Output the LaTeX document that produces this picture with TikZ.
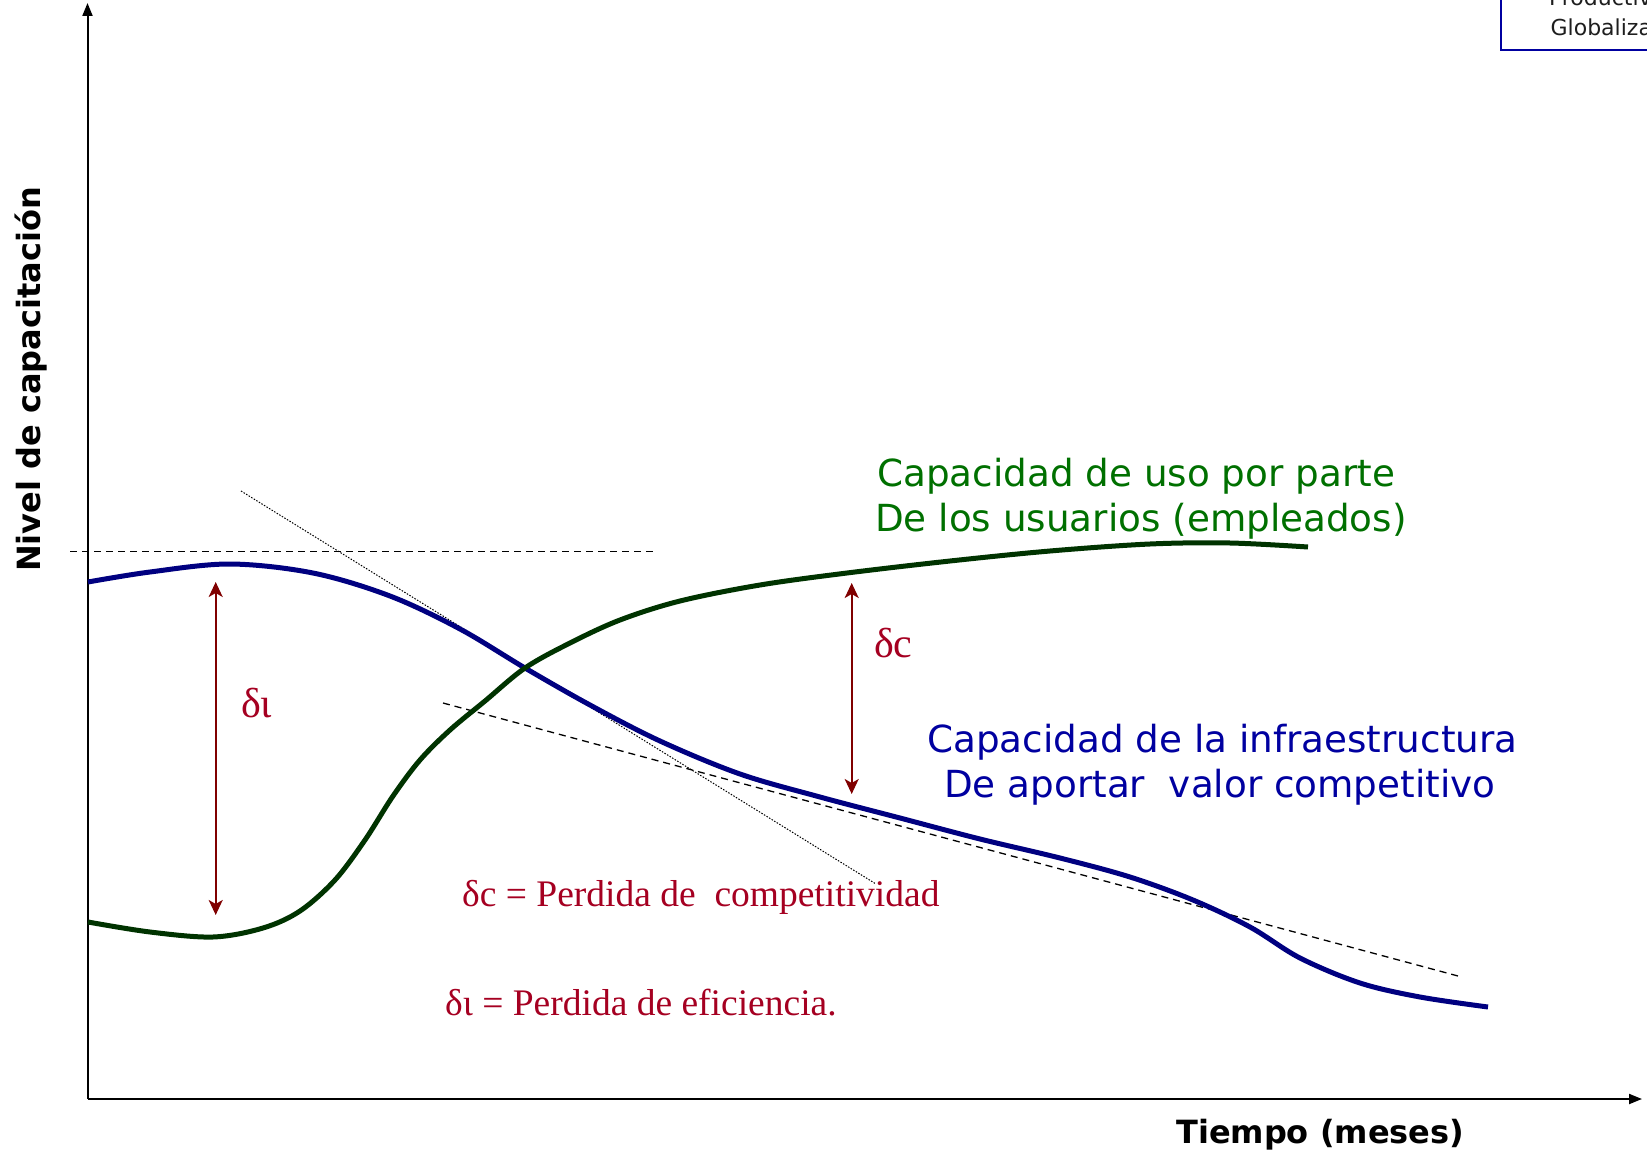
\documentclass[tikz,border=0pt]{standalone}
\usepackage{fontspec}
\setmainfont{Liberation Serif}
\newfontfamily\vsans{DejaVu Sans}
\usetikzlibrary{arrows.meta}
\definecolor{curveblue}{RGB}{0,0,128}
\definecolor{curvegreen}{RGB}{0,51,0}
\definecolor{arrowred}{RGB}{128,0,0}
\definecolor{textred}{RGB}{165,0,33}
\definecolor{textblue}{RGB}{0,0,160}
\definecolor{textgreen}{RGB}{0,112,0}
\definecolor{boxtext}{RGB}{30,30,30}
\begin{document}
\begin{tikzpicture}[x=1pt,y=-1pt,
  axisline/.style={line width=2pt,black,-{Triangle[length=13pt,width=10pt]}},
  bluecurve/.style={line width=5pt,curveblue,line join=round},
  greencurve/.style={line width=5pt,curvegreen,line join=round},
  deltaarrow/.style={line width=2pt,arrowred,{Stealth[length=15pt,width=14pt,inset=4pt]}-{Stealth[length=15pt,width=14pt,inset=4pt]}},
  dashref/.style={line width=1.3pt,black,dash pattern=on 7pt off 5pt},
  dotref/.style={line width=1pt,black,dash pattern=on 1.5pt off 1.5pt},
  lbl/.style={inner sep=0pt,anchor=base west},
  greentxt/.style={lbl,textgreen,font=\vsans\fontsize{37.3}{45}\selectfont},
  bluetxt/.style={lbl,textblue,font=\vsans\fontsize{37.3}{45}\selectfont},
  redtxt/.style={lbl,textred,font=\fontsize{37.5}{42}\selectfont},
  deltatxt/.style={lbl,textred,font=\fontsize{42}{46}\selectfont},
  axistxt/.style={lbl,black,font=\vsans\bfseries\fontsize{32}{38}\selectfont}
]
\useasboundingbox (0,0) rectangle (1647,1153);
\clip (0,0) rectangle (1647,1153);

% axes
\coordinate (origin) at (87.5,1099);
\coordinate (ytop) at (87.5,3);
\coordinate (xend) at (1642,1099);
\draw[axisline] (origin) -- (ytop);
\draw[axisline] (origin) -- (xend);

% reference lines
\coordinate (h1) at (70,551.7);
\coordinate (h2) at (655,551.7);
\draw[dashref] (h1) -- (h2);
\coordinate (t1) at (443,703);
\coordinate (t2) at (1458,976);
\draw[dashref] (t1) -- (t2);
\coordinate (d1) at (241,491);
\coordinate (d2) at (876,884);
\draw[dotref] (d1) -- (d2);

% curves
\draw[bluecurve] plot[smooth,tension=0.55] coordinates {
 (88,582) (150,572) (230,564) (313,573) (390,596) (460,629) (525,668)
 (590,705) (660,741) (740,774) (820,797) (900,818) (980,839) (1060,858)
 (1130,877) (1193,900) (1250,927) (1300,958) (1360,983) (1420,997)
 (1488,1007)};
\draw[greencurve] plot[smooth,tension=0.55] coordinates {
 (88,922) (150,932) (213,937) (263,928) (300,911) (335,880) (365,840)
 (393,796) (420,760) (450,730) (485,701) (525,668) (570,643) (620,620)
 (680,601) (760,585) (847,573) (950,561) (1050,551) (1150,544)
 (1230,543) (1308,547)};

% delta arrows
\coordinate (ditop) at (215.7,582);
\coordinate (dibot) at (215.7,915);
\draw[deltaarrow] (ditop) -- (dibot);
\coordinate (dctop) at (851.7,583);
\coordinate (dcbot) at (851.7,794);
\draw[deltaarrow] (dctop) -- (dcbot);

% labels
\node[deltatxt] (dilab) at (241,717) {δι};
\node[deltatxt] (dclab) at (874,657) {δc};
\node[redtxt] (def1) at (462,906) {δc = Perdida de \ competitividad};
\node[redtxt] (def2) at (445,1015) {δι = Perdida de eficiencia.};

\node[greentxt] (g1) at (877,486) {Capacidad de uso por parte};
\node[greentxt] (g2) at (875,531) {De los usuarios (empleados)};
\node[bluetxt] (b1) at (927,752) {Capacidad de la infraestructura};
\node[bluetxt] (b2) at (944,797) {De aportar \ valor competitivo};

\node[axistxt] (xlab) at (1176,1143) {Tiempo (meses)};
\node[axistxt,rotate=90] (ylab) at (40,572) {Nivel de capacitación};

% cut-off title box
\node[draw=textblue,line width=2pt,anchor=south west,align=center,
      inner xsep=48pt,inner ysep=14pt,text=boxtext,
      font=\vsans\fontsize{22}{29.4}\selectfont] (title) at (1500,50.7)
      {Productividad\\Globalización};
\end{tikzpicture}
\end{document}
